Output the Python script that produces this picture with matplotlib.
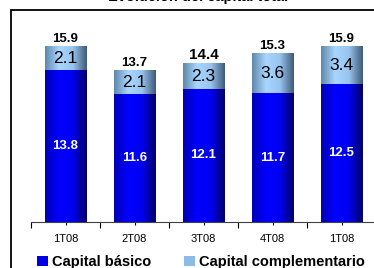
import numpy as np
import matplotlib
matplotlib.use('Agg')
import matplotlib.pyplot as plt
from matplotlib.colors import LinearSegmentedColormap
from matplotlib.patches import Patch, Rectangle

plt.rcParams['font.family'] = ['Liberation Sans', 'DejaVu Sans']

# data
categories = ['1T08', '2T08', '3T08', '4T08', '1T08']
basico = [13.8, 11.6, 12.1, 11.7, 12.5]
complementario = [2.1, 2.1, 2.3, 3.6, 3.4]
totals = [15.9, 13.7, 14.4, 15.3, 15.9]

W, H = 374, 268
fig = plt.figure(figsize=(W / 100, H / 100), dpi=100)

# outer chart frame, runs off the right and bottom edge
fig.patches.append(Rectangle((11 / W, -0.1), 1.0, (H - 10) / H + 0.1,
                             transform=fig.transFigure, fill=False,
                             edgecolor='black', linewidth=1.3))
# title, mostly cut off at the top of the image
fig.text(0.53, 1 - 0.5 / H, 'Evolución del capital total', ha='center',
         va='baseline', fontsize=10.5, fontweight='bold')

ax = fig.add_axes([31 / W, 46 / H, 345 / W, 198 / H])

cm_bas = LinearSegmentedColormap.from_list('bas', ['#0000B4', '#0000FF', '#0000F0', '#000066'])
cm_com = LinearSegmentedColormap.from_list('com', ['#5F87AA', '#A8D6FF', '#98C4EE', '#3E5A78'])
grad = np.linspace(0, 1, 200).reshape(1, -1)

x = np.arange(len(categories))
w = 0.6
b1 = ax.bar(x, basico, w, color='none', edgecolor='none')
b2 = ax.bar(x, complementario, w, bottom=basico, color='none', edgecolor='none')

for bars, cm in ((b1, cm_bas), (b2, cm_com)):
    for r in bars:
        x0, y0 = r.get_x(), r.get_y()
        ax.imshow(grad, cmap=cm, aspect='auto', interpolation='bilinear',
                  extent=(x0, x0 + r.get_width(), y0, y0 + r.get_height()),
                  zorder=2)

for i in range(len(categories)):
    ax.text(x[i], basico[i] / 2, f'{basico[i]:.1f}', ha='center', va='center',
            color='white', fontsize=9.5, fontweight='bold', zorder=3)
    ax.text(x[i], basico[i] + complementario[i] / 2, f'{complementario[i]:.1f}',
            ha='center', va='center', color='black', fontsize=12.5, zorder=3)
    ax.annotate(f'{totals[i]:.1f}', (x[i], totals[i]), xytext=(0, 1.5),
                textcoords='offset points', ha='center', va='bottom',
                fontsize=11 if i == 2 else 9.5, fontweight='bold')

ax.set_xlim(-0.5, len(categories) - 0.5)
ax.set_ylim(0, 18)
ax.set_xticks(x)
ax.set_xticklabels(categories, fontsize=8)
ax.set_xticks(np.arange(-0.5, len(categories)), minor=True)
ax.tick_params(axis='x', which='major', length=2, width=0.8, pad=6.5)
ax.tick_params(axis='x', which='minor', length=4, width=0.8)
ax.set_yticks([])
for s in ('top', 'right', 'left'):
    ax.spines[s].set_visible(False)
ax.spines['bottom'].set_color('#404040')
ax.patch.set_visible(False)

handles = [Patch(facecolor='#0000E6', edgecolor='none'),
           Patch(facecolor='#8CBCE6', edgecolor='none')]
fig.legend(handles, ['Capital básico', 'Capital complementario'], ncol=2,
           loc='center', bbox_to_anchor=(201 / W, 6 / H), frameon=False,
           prop={'weight': 'bold', 'size': 10.5}, handlelength=0.75,
           handleheight=0.75, handletextpad=0.3, columnspacing=2.2,
           borderaxespad=0, borderpad=0)

fig.savefig('out.png', dpi=100)
